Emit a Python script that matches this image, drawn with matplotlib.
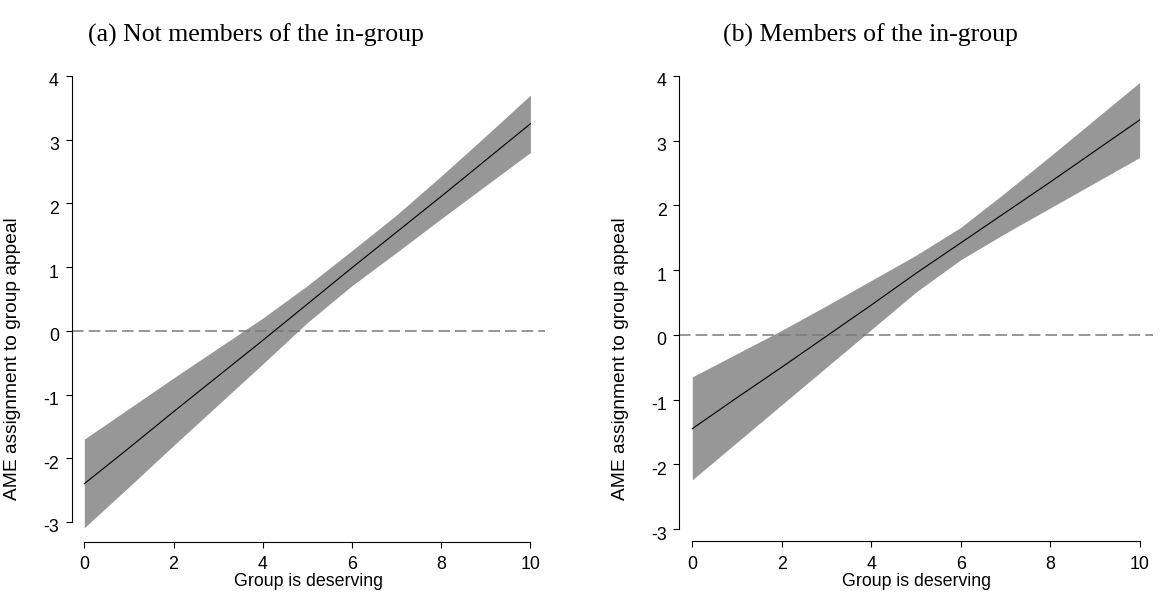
import numpy as np
import matplotlib
matplotlib.use("Agg")
import matplotlib.pyplot as plt
from matplotlib.transforms import ScaledTranslation

# deservingness scale 0..10
x = [0, 1, 2, 3, 4, 5, 6, 7, 8, 9, 10]

# (a) not members of the in-group
ame_a = [-2.40, -1.84, -1.27, -0.71, -0.15, 0.42, 0.99, 1.55, 2.11, 2.68, 3.25]
lo_a = [-3.09, -2.45, -1.80, -1.16, -0.52, 0.13, 0.71, 1.23, 1.76, 2.28, 2.80]
hi_a = [-1.70, -1.22, -0.74, -0.27, 0.20, 0.71, 1.26, 1.82, 2.43, 3.06, 3.70]

# (b) members of the in-group
ame_b = [-1.45, -0.97, -0.50, -0.02, 0.46, 0.95, 1.42, 1.89, 2.36, 2.84, 3.32]
lo_b = [-2.24, -1.66, -1.08, -0.50, 0.08, 0.66, 1.16, 1.57, 1.96, 2.35, 2.74]
hi_b = [-0.65, -0.29, 0.07, 0.45, 0.84, 1.23, 1.66, 2.20, 2.76, 3.33, 3.90]

titles = ["(a) Not members of the in-group", "(b) Members of the in-group"]
xticks = [0, 2, 4, 6, 8, 10]
yticks = [-3, -2, -1, 0, 1, 2, 3, 4]

W, H = 1162, 596
fig = plt.figure(figsize=(W / 100, H / 100), dpi=100)
plt.rcParams["font.family"] = ["Liberation Sans", "DejaVu Sans"]

# panel boxes in pixels: left, right, bottom, top
boxes = [(71.7, 545.0, 541.7, 76.0), (679.3, 1153.0, 541.3, 76.0)]
xlims = [(-0.2825, 10.327), (-0.29, 10.30)]
ylims = [(-3.31, 4.0), (-3.19, 4.0)]
title_x = [256, 870]
ylab_x = [21, 628.6]

data = [(ame_a, lo_a, hi_a), (ame_b, lo_b, hi_b)]

for i in range(2):
    l, r, b, t = boxes[i]
    ax = fig.add_axes([l / W, 1 - b / H, (r - l) / W, (b - t) / H])
    ame, lo, hi = data[i]

    ax.fill_between(x, lo, hi, color="#979797", linewidth=0, zorder=1)
    ax.axhline(0, color="#7a7a7a", linewidth=1.1, dashes=(7.6, 3.3), zorder=2)
    ax.plot(x, ame, color="black", linewidth=0.8, zorder=3)

    ax.set_xlim(*xlims[i])
    ax.set_ylim(*ylims[i])
    for s in ["top", "right"]:
        ax.spines[s].set_visible(False)
    ax.spines["left"].set_bounds(-3, 4)
    ax.spines["bottom"].set_bounds(0, 10)
    for s in ["left", "bottom"]:
        ax.spines[s].set_linewidth(0.8)

    ax.set_xticks(xticks)
    ax.set_yticks(yticks)
    ax.set_yticklabels([str(v) for v in yticks])
    ax.tick_params(axis="both", labelsize=12.8, width=0.8, length=4.6, color="black")
    ax.tick_params(axis="x", pad=6)
    ax.tick_params(axis="y", pad=4.6)
    for lab in ax.get_yticklabels():
        lab.set_transform(lab.get_transform() + ScaledTranslation(0, -0.04, fig.dpi_scale_trans))

    ax.set_xlabel("Group is deserving", fontsize=12.8, labelpad=0)
    ax.set_ylabel("AME assignment to group appeal", fontsize=13.8)
    ax.yaxis.set_label_coords(ylab_x[i] / W, 1 - 359 / H, transform=fig.transFigure)

    fig.text(title_x[i] / W, 1 - 35 / H, titles[i], family="Liberation Serif",
             fontsize=18.5, ha="center", va="center")

fig.savefig("out.png", dpi=100)
